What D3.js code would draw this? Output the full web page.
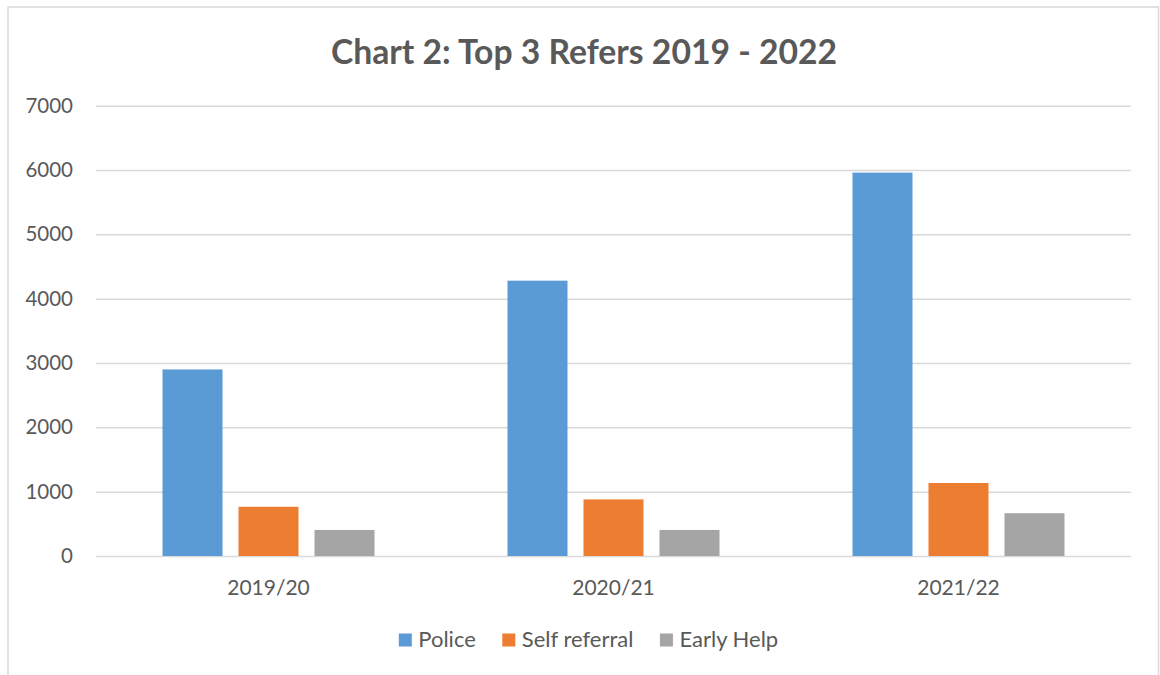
<!DOCTYPE html>
<html>
<head>
<meta charset="utf-8">
<script src="https://cdn.jsdelivr.net/npm/d3@7"></script>
<style>
  html, body { margin: 0; padding: 0; background: #fff; }
  svg { display: block; }
  text { font-family: Lato, "Open Sans", sans-serif; fill: #595959; }
</style>
</head>
<body>
<svg id="chart" width="1160" height="675"></svg>
<script>
// ---- data ----
const title = "Chart 2: Top 3 Refers 2019 - 2022";
const categories = ["2019/20", "2020/21", "2021/22"];
const seriesNames = ["Police", "Self referral", "Early Help"];
const police = [2900, 4280, 5960];
const selfReferral = [765, 880, 1135];
const earlyHelp = [405, 405, 665];
const yTicks = [0, 1000, 2000, 3000, 4000, 5000, 6000, 7000];
const colors = ["#5b9bd5", "#ed7d31", "#a5a5a5"];

const seriesValues = [police, selfReferral, earlyHelp];
const rows = categories.map((c, i) => ({
  category: c,
  values: seriesNames.map((s, j) => ({ series: s, value: seriesValues[j][i] }))
}));

// ---- layout ----
const plot = { left: 96, right: 1131, top: 105.7, bottom: 556 };

const svg = d3.select("#chart");

// outer chart border
svg.append("rect")
  .attr("x", 8).attr("y", 7)
  .attr("width", 1150.5).attr("height", 680)
  .attr("fill", "#fff")
  .attr("stroke", "#d9d9d9").attr("stroke-width", 1.5);

// title
svg.append("text")
  .attr("x", 584).attr("y", 63.5)
  .attr("text-anchor", "middle")
  .style("font-size", "33.7px")
  .style("font-weight", "bold")
  .text(title);

const y = d3.scaleLinear().domain([0, 7000]).range([plot.bottom, plot.top]);
const x0 = d3.scaleBand().domain(categories)
  .range([plot.left, plot.right])
  .paddingInner(0.3855).paddingOuter(0.1928);
const x1 = d3.scaleBand().domain(seriesNames)
  .range([0, x0.bandwidth()])
  .paddingInner(0.2105).paddingOuter(0);
const color = d3.scaleOrdinal().domain(seriesNames).range(colors);

// y axis with gridlines
const yAxis = svg.append("g")
  .attr("transform", `translate(${plot.left},0)`)
  .call(d3.axisLeft(y).tickValues(yTicks).tickFormat(d3.format("d"))
    .tickSize(-(plot.right - plot.left)).tickPadding(23));
yAxis.select(".domain").remove();
yAxis.selectAll(".tick line").attr("stroke", "#d9d9d9").attr("stroke-width", 1.5);
yAxis.selectAll(".tick text")
  .style("font-size", "20.5px").style("font-family", "Lato, 'Open Sans', sans-serif")
  .attr("fill", "#595959");

// x axis labels
const xAxis = svg.append("g")
  .attr("transform", `translate(0,${plot.bottom})`)
  .call(d3.axisBottom(x0).tickSize(0).tickPadding(24));
xAxis.select(".domain").remove();
xAxis.selectAll(".tick text")
  .style("font-size", "21px").style("font-family", "Lato, 'Open Sans', sans-serif")
  .attr("fill", "#595959");

// bars
const groups = svg.append("g").selectAll("g")
  .data(rows).join("g")
  .attr("transform", d => `translate(${x0(d.category)},0)`);
groups.selectAll("rect")
  .data(d => d.values).join("rect")
  .attr("x", d => x1(d.series))
  .attr("width", x1.bandwidth())
  .attr("y", d => y(d.value))
  .attr("height", d => y(0) - y(d.value))
  .attr("fill", d => color(d.series));

// legend
const legend = svg.append("g");
const sq = 13, gapText = 6.5, gapItem = 26.5, legendCenter = 588.5, legendBaseline = 647;
const items = legend.selectAll("g").data(seriesNames).join("g");
items.append("rect")
  .attr("width", sq).attr("height", sq)
  .attr("y", legendBaseline - 13.5)
  .attr("fill", d => color(d));
items.append("text")
  .attr("x", sq + gapText)
  .attr("y", legendBaseline)
  .style("font-size", "22px")
  .text(d => d);
const widths = [];
items.each(function() {
  widths.push(sq + gapText + d3.select(this).select("text").node().getComputedTextLength());
});
const total = d3.sum(widths) + gapItem * (widths.length - 1);
let cx = legendCenter - total / 2;
items.each(function(d, i) {
  d3.select(this).attr("transform", `translate(${cx},0)`);
  cx += widths[i] + gapItem;
});
</script>
</body>
</html>
